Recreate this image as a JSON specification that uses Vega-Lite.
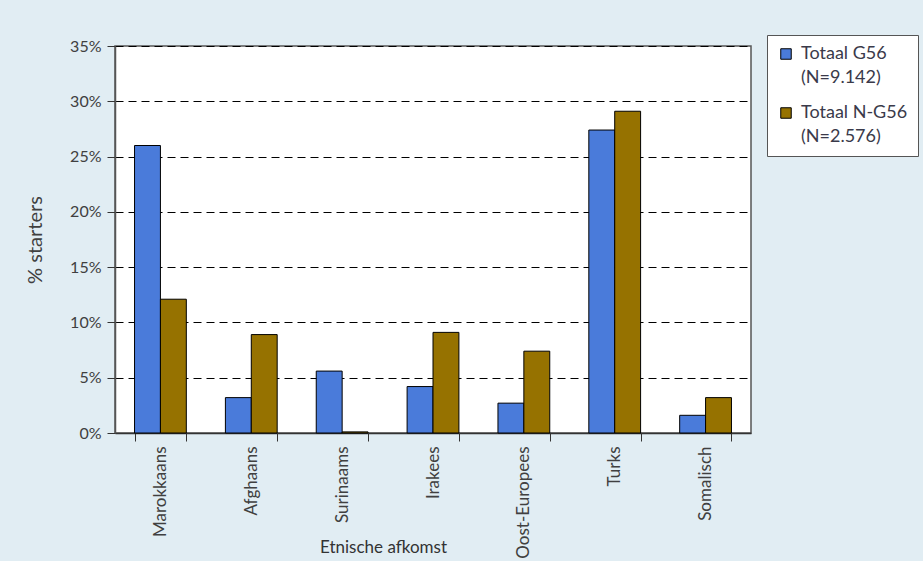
{
  "$schema": "https://vega.github.io/schema/vega-lite/v6.json",
  "autosize": {"type": "none"},
  "width": 636,
  "height": 387,
  "padding": {"left": 115, "top": 46, "right": 172, "bottom": 128},
  "background": "#e1edf3",
  "config": {
    "font": "Lato",
    "view": {"fill": "white", "stroke": "#555555", "strokeWidth": 1.5}
  },
  "data": {
    "values": [
      {"afkomst": "Marokkaans", "groep": "Totaal G56|(N=9.142)", "pct": 26.0},
      {"afkomst": "Marokkaans", "groep": "Totaal N-G56|(N=2.576)", "pct": 12.1},
      {"afkomst": "Afghaans", "groep": "Totaal G56|(N=9.142)", "pct": 3.2},
      {"afkomst": "Afghaans", "groep": "Totaal N-G56|(N=2.576)", "pct": 8.9},
      {"afkomst": "Surinaams", "groep": "Totaal G56|(N=9.142)", "pct": 5.6},
      {"afkomst": "Surinaams", "groep": "Totaal N-G56|(N=2.576)", "pct": 0.1},
      {"afkomst": "Irakees", "groep": "Totaal G56|(N=9.142)", "pct": 4.2},
      {"afkomst": "Irakees", "groep": "Totaal N-G56|(N=2.576)", "pct": 9.1},
      {"afkomst": "Oost-Europees", "groep": "Totaal G56|(N=9.142)", "pct": 2.7},
      {"afkomst": "Oost-Europees", "groep": "Totaal N-G56|(N=2.576)", "pct": 7.4},
      {"afkomst": "Turks", "groep": "Totaal G56|(N=9.142)", "pct": 27.4},
      {"afkomst": "Turks", "groep": "Totaal N-G56|(N=2.576)", "pct": 29.1},
      {"afkomst": "Somalisch", "groep": "Totaal G56|(N=9.142)", "pct": 1.6},
      {"afkomst": "Somalisch", "groep": "Totaal N-G56|(N=2.576)", "pct": 3.2}
    ]
  },
  "mark": {"type": "bar", "stroke": "black", "strokeWidth": 1},
  "encoding": {
    "x": {
      "field": "afkomst",
      "type": "nominal",
      "sort": null,
      "scale": {"paddingInner": 0.43, "paddingOuter": 0.215},
      "axis": {
        "title": "Etnische afkomst",
        "titleFont": "Lato",
        "titleFontSize": 17,
        "titleFontWeight": "normal",
        "titleColor": "#333333",
        "titleX": 268,
        "titleY": 114,
        "titleAlign": "center",
        "titleBaseline": "middle",
        "labelAngle": -90,
        "labelAlign": "right",
        "labelBaseline": "middle",
        "labelFontSize": 17,
        "labelColor": "#404040",
        "labelPadding": 5,
        "tickBand": "extent",
        "tickSize": 8,
        "tickColor": "#333333",
        "domainColor": "#333333",
        "domainWidth": 1.5,
        "grid": false
      }
    },
    "xOffset": {"field": "groep", "type": "nominal", "scale": {"paddingInner": 0, "paddingOuter": 0}},
    "y": {
      "field": "pct",
      "type": "quantitative",
      "scale": {"domain": [0, 35], "nice": false},
      "axis": {
        "title": "% starters",
        "titleFont": "Lato",
        "titleFontSize": 20,
        "titleFontWeight": "normal",
        "titleColor": "#404040",
        "titlePadding": 24,
        "values": [0, 5, 10, 15, 20, 25, 30, 35],
        "labelExpr": "datum.value + '%'",
        "labelFontSize": 16,
        "labelColor": "#404040",
        "labelPadding": 6,
        "tickSize": 8,
        "tickColor": "#333333",
        "domainColor": "#555555",
        "domainWidth": 1.5,
        "grid": true,
        "gridColor": "#000000",
        "gridDash": [8, 5],
        "gridWidth": 1
      }
    },
    "color": {
      "field": "groep",
      "type": "nominal",
      "scale": {"range": ["#4a7bda", "#967200"]},
      "legend": {
        "title": null,
        "orient": "none",
        "legendX": 652,
        "legendY": -11,
        "fillColor": "white",
        "strokeColor": "#555555",
        "padding": 10,
        "symbolType": "square",
        "symbolSize": 110,
        "symbolStrokeColor": "black",
        "symbolStrokeWidth": 1,
        "labelExpr": "split(datum.label, '|')",
        "labelFontSize": 18,
        "labelColor": "#3a3a4a",
        "labelLimit": 200,
        "labelBaseline": "top",
        "rowPadding": 17,
        "labelOffset": 6,
        "encode": {
          "labels": {"update": {"lineHeight": {"value": 24}, "dy": {"value": -9}}}
        }
      }
    }
  }
}
